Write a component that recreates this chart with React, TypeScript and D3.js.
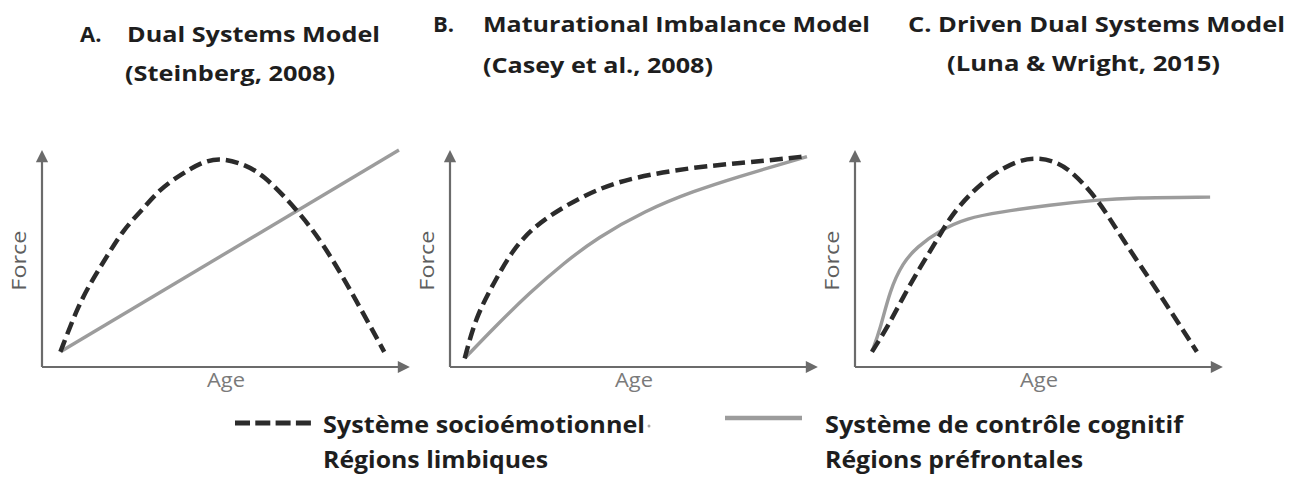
import * as d3 from 'd3';

// Panel A – Dual Systems Model
const ageSocioA = [5, 10, 14, 18, 22, 27, 32, 38, 43, 48, 54, 60, 69, 76, 84, 93];
const forceSocioA = [7, 29, 41, 52, 63, 72, 82, 89, 94, 96.5, 94, 89, 73, 58, 35, 7];
const ageCtrlA = [5, 97];
const forceCtrlA = [7, 100];

// Panel B – Maturational Imbalance Model
const ageSocioB = [4, 7, 12, 17, 23, 31, 40, 50, 66, 79, 91, 96];
const forceSocioB = [4, 23, 39, 54, 65, 74, 82, 87.5, 92, 94, 96, 97];
const ageCtrlB = [4, 12.5, 21.5, 31, 40, 53, 66, 79, 90, 97];
const forceCtrlB = [4, 19, 34, 48, 59.5, 72, 81, 88, 93.5, 97];

// Panel C – Driven Dual Systems Model
const ageSocioC = [4.6, 8.7, 13, 17.7, 22.3, 25.8, 31.3, 37.5, 44, 49, 54, 58.4, 65.8, 72.8, 82.1, 92.9];
const forceSocioC = [7, 18, 32, 46, 58.5, 69, 80, 89, 95, 96.5, 95, 91, 78, 58.5, 35.5, 7];
const ageCtrlC = [4.6, 6.8, 9.5, 13, 16.8, 23.1, 30.4, 39.4, 53, 66, 75, 96.5];
const forceCtrlC = [7, 17, 35.5, 48, 55.3, 63, 68.7, 71.4, 74.7, 77, 78, 78.3];

const titleLetters = ['A.', 'B.', ''];
const titleNames = ['Dual Systems Model', 'Maturational Imbalance Model', 'C. Driven Dual Systems Model'];
const titleRefs = ['(Steinberg, 2008)', '(Casey et al., 2008)', '(Luna & Wright, 2015)'];

const legendLine1 = ['Système socioémotionnel', 'Système de contrôle cognitif'];
const legendLine2 = ['Régions limbiques', 'Régions préfrontales'];

const FONT = '"Open Sans", Lato, sans-serif';
const DARK = '#2b2b2b';
const GRAY = '#9c9c9c';
const AXIS = '#6b6b6b';

type Panel = {
  x0: number;
  socio: [number[], number[]];
  ctrl: [number[], number[]];
  // letterX, line1 baseline, nameX, nameLen, refX, refLen, line2 baseline
  t: number[];
};

const panels: Panel[] = [
  { x0: 42, socio: [ageSocioA, forceSocioA], ctrl: [ageCtrlA, forceCtrlA], t: [80, 42, 127, 253, 125, 210, 81] },
  { x0: 450, socio: [ageSocioB, forceSocioB], ctrl: [ageCtrlB, forceCtrlB], t: [433, 32, 483, 387, 483, 230, 73] },
  { x0: 855, socio: [ageSocioC, forceSocioC], ctrl: [ageCtrlC, forceCtrlC], t: [0, 32, 908, 377, 947, 273, 71] }
];

function PanelChart({ p, i }: { p: Panel; i: number }) {
  const y0 = 367;
  const w = 368;
  const h = 217;
  const x = d3.scaleLinear().domain([0, 100]).range([p.x0, p.x0 + w]);
  const y = d3.scaleLinear().domain([0, 100]).range([y0, y0 - h]);
  const line = d3
    .line<[number, number]>()
    .x((d) => x(d[0]))
    .y((d) => y(d[1]))
    .curve(d3.curveBasis);
  const pts = (s: [number[], number[]]) => s[0].map((a, k) => [a, s[1][k]] as [number, number]);
  const [lx, b1, nx, nl, rx, rl, b2] = p.t;
  return (
    <g>
      <g fontFamily={FONT} fontWeight={700} fontSize={22} fill="#1e1e1e">
        {titleLetters[i] && (
          <text x={lx} y={b1}>
            {titleLetters[i]}
          </text>
        )}
        <text x={nx} y={b1} textLength={nl} lengthAdjust="spacingAndGlyphs">
          {titleNames[i]}
        </text>
        <text x={rx} y={b2} textLength={rl} lengthAdjust="spacingAndGlyphs">
          {titleRefs[i]}
        </text>
      </g>
      <line x1={x(0)} y1={y(0)} x2={x(0)} y2={y(100) + 11} stroke={AXIS} strokeWidth={2.2} markerEnd="url(#arrow)" />
      <line x1={x(0)} y1={y(0)} x2={x(100) - 11} y2={y(0)} stroke={AXIS} strokeWidth={2.2} markerEnd="url(#arrow)" />
      <text
        transform={`translate(${x(0) - 16},${y(49)}) rotate(-90)`}
        textAnchor="middle"
        fontFamily={FONT}
        fontSize={20}
        fill="#5e5e5e"
        textLength={60}
        lengthAdjust="spacingAndGlyphs"
      >
        Force
      </text>
      <text
        x={x(50) - 19}
        y={y(0) + 20}
        fontFamily={FONT}
        fontSize={20}
        fill="#7a7a7a"
        textLength={38}
        lengthAdjust="spacingAndGlyphs"
      >
        Age
      </text>
      <path d={line(pts(p.ctrl)) || ''} fill="none" stroke={GRAY} strokeWidth={3.4} />
      <path d={line(pts(p.socio)) || ''} fill="none" stroke={DARK} strokeWidth={4.5} strokeDasharray="13,6" />
    </g>
  );
}

export default function App() {
  return (
    <svg width={1301} height={478} style={{ position: 'absolute', left: 0, top: 0, background: '#fff' }}>
      <defs>
        <marker id="arrow" viewBox="0 0 10 10" refX={1} refY={5} markerWidth={6} markerHeight={5.5} orient="auto">
          <path d="M0,0 L10,5 L0,10 Z" fill={AXIS} />
        </marker>
      </defs>
      {panels.map((p, i) => (
        <PanelChart key={i} p={p} i={i} />
      ))}
      {/* legend */}
      <line x1={235} y1={423} x2={311} y2={423} stroke={DARK} strokeWidth={5} strokeDasharray="15,5.3" />
      <line x1={725} y1={418} x2={802} y2={418} stroke={GRAY} strokeWidth={4.5} />
      {[
        [323, 322, 225],
        [825, 358, 258]
      ].map(([lx, l1, l2], k) => (
        <g key={k} fontFamily={FONT} fontWeight={700} fontSize={23} fill="#1e1e1e">
          <text x={lx} y={433} textLength={l1} lengthAdjust="spacingAndGlyphs">
            {legendLine1[k]}
          </text>
          <text x={lx} y={468} textLength={l2} lengthAdjust="spacingAndGlyphs">
            {legendLine2[k]}
          </text>
        </g>
      ))}
      <circle cx={649} cy={426} r={1.5} fill="#aaa" />
    </svg>
  );
}
